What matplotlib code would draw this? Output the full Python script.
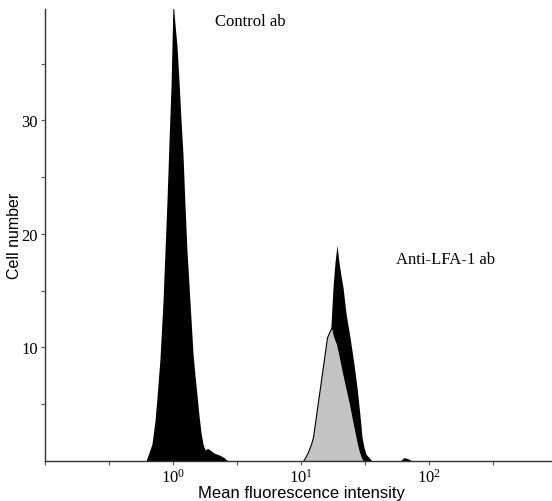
import matplotlib
matplotlib.use("Agg")
import matplotlib.pyplot as plt
from matplotlib.ticker import FixedLocator, NullFormatter

# control antibody histogram (intensity, cell number)
control_x = [0.615, 0.638, 0.685, 0.723, 0.750, 0.791, 0.835, 0.866, 0.898, 0.930,
             0.965, 1.000, 1.036, 1.075, 1.114, 1.155, 1.197, 1.241, 1.286, 1.334,
             1.382, 1.433, 1.486, 1.540, 1.597, 1.655, 1.715, 1.778, 1.876, 1.981,
             2.090, 2.206, 2.329, 2.501, 2.689]
control_y = [0, 0.5, 1.5, 3.5, 5.6, 9.0, 14.0, 18.5, 23.0, 28.0,
             33.0, 40.5, 38.5, 36.5, 33.5, 30.0, 27.0, 22.5, 18.5, 15.5,
             12.5, 9.5, 7.5, 5.8, 4.0, 2.5, 1.5, 1.0, 1.1, 0.9,
             0.7, 0.6, 0.5, 0.3, 0]

# anti-LFA-1, black histogram
lfa_x = [11.76, 12.41, 13.58, 14.59, 15.68, 16.55, 17.16, 17.78, 18.44, 19.11,
         19.81, 20.54, 21.29, 22.47, 24.15, 25.95, 27.38, 28.91, 29.97, 31.07,
         32.20, 33.98, 35.87, 59.3, 63.8, 68.5, 73.6]
lfa_y = [0, 0.5, 1.8, 3.5, 6.0, 9.0, 12.0, 15.3, 17.5, 19.0,
         17.5, 16.3, 15.3, 13.0, 10.9, 8.5, 6.5, 4.0, 2.1, 1.2,
         0.6, 0.3, 0, 0, 0.3, 0.2, 0]

# anti-LFA-1, gray histogram
gray_x = [10.37, 10.75, 11.34, 11.97, 12.41, 13.10, 14.08, 15.12, 15.97, 16.86,
          17.47, 18.10, 19.11, 20.18, 21.29, 22.87, 24.15, 25.95, 27.88, 28.91,
          29.97, 31.07]
gray_y = [0, 0.3, 0.8, 1.5, 2.1, 4.0, 6.5, 9.0, 10.9, 11.5,
          11.8, 11.0, 10.3, 9.1, 7.8, 6.2, 5.0, 3.2, 1.5, 0.8,
          0.3, 0]

major_x = [1, 10, 100]
major_x_labels = ['10$^0$', '10$^1$', '10$^2$']
minor_x = [10 ** -1, 10 ** -0.5, 10 ** 0.5, 10 ** 1.5, 10 ** 2.5]

plt.rcParams['mathtext.fontset'] = 'custom'
plt.rcParams['mathtext.rm'] = 'Liberation Serif'
plt.rcParams['mathtext.it'] = 'Liberation Serif:italic'
plt.rcParams['mathtext.default'] = 'rm'

fig = plt.figure(figsize=(5.52, 5.02), dpi=100)
ax = fig.add_axes([45 / 552, 40 / 502, 512 / 552, 452 / 502])

ax.fill_between(control_x, control_y, color='black', lw=0)
ax.fill_between(lfa_x, lfa_y, color='black', lw=0)
ax.fill_between(gray_x, gray_y, facecolor='#c4c4c4', edgecolor='black', lw=0.8)

ax.set_xscale('log')
ax.set_xlim(10 ** -1, 10 ** 3)
ax.set_ylim(0, 39.8)

for s in ['top', 'right']:
    ax.spines[s].set_visible(False)
for s in ['left', 'bottom']:
    ax.spines[s].set_color('#333333')
    ax.spines[s].set_linewidth(1.0)

ax.xaxis.set_major_locator(FixedLocator(major_x))
ax.set_xticklabels(major_x_labels, fontsize=12, family='Liberation Serif')
ax.xaxis.set_minor_locator(FixedLocator(minor_x))
ax.xaxis.set_minor_formatter(NullFormatter())
ax.set_yticks([10, 20, 30])
ax.set_yticklabels(['10', '20', '30'], fontsize=12, family='Liberation Serif')
ax.set_yticks([5, 15, 25, 35], minor=True)
ax.tick_params(which='both', length=3, width=0.8, color='#555555', pad=2)

ax.set_xlabel('Mean fluorescence intensity', fontsize=12, family='Liberation Sans', va='center')
ax.xaxis.set_label_coords(0.5, -0.069)
ax.set_ylabel('Cell number', fontsize=11.5, family='Liberation Sans', va='center')
ax.yaxis.set_label_coords(-0.06, 0.5)

ax.text(250 / 552, 1 - 22 / 502, 'Control ab', transform=fig.transFigure, ha='center', va='center',
        fontsize=12, family='Liberation Serif')
ax.text(446 / 552, 1 - 260 / 502, 'Anti-LFA-1 ab', transform=fig.transFigure, ha='center', va='center',
        fontsize=12, family='Liberation Serif')

fig.savefig('out.png', dpi=100)
